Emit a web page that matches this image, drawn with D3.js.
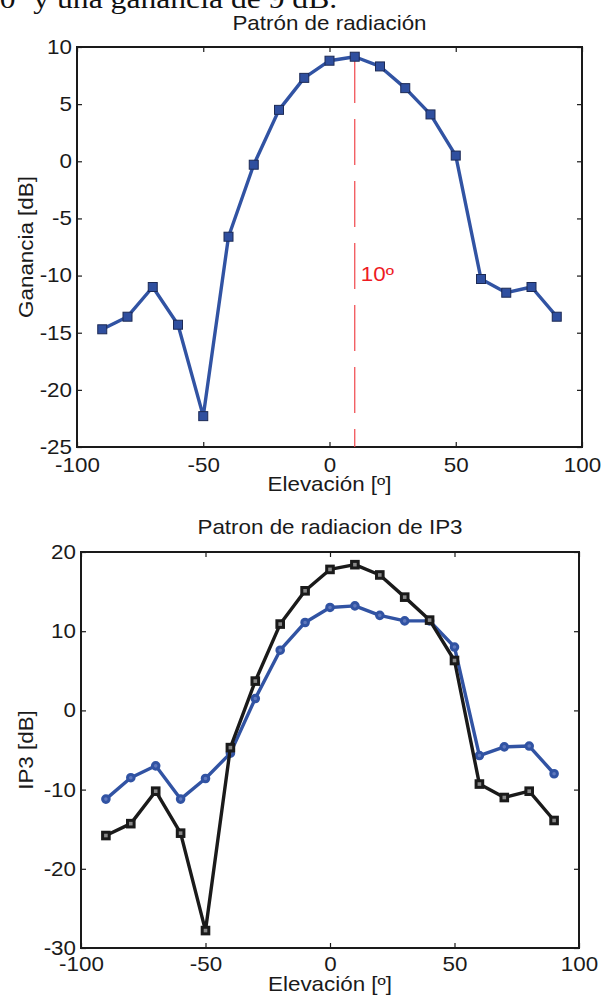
<!DOCTYPE html>
<html><head><meta charset="utf-8">
<script src="https://cdn.jsdelivr.net/npm/d3@7"></script>
<style>body{margin:0;background:#fff} svg{display:block}</style>
</head><body>
<svg id="c" width="603" height="996"></svg>
<script>
// ---- data ----
const elevacion = [-90,-80,-70,-60,-50,-40,-30,-20,-10,0,10,20,30,40,50,60,70,80,90];
const ganancia  = [-14.7,-13.6,-11.0,-14.3,-22.3,-6.6,-0.3,4.5,7.3,8.8,9.15,8.3,6.4,4.1,0.5,-10.3,-11.5,-11.0,-13.6];
const ip3Negro  = [-15.8,-14.3,-10.2,-15.5,-27.8,-4.7,3.7,10.9,15.1,17.8,18.4,17.1,14.3,11.4,6.3,-9.3,-11.0,-10.2,-13.9];
const ip3Azul   = [-11.2,-8.5,-7.0,-11.2,-8.6,-5.4,1.5,7.6,11.1,13.0,13.2,12.0,11.3,11.3,8.0,-5.7,-4.6,-4.5,-8.0];
const xTicks    = [-100,-50,0,50,100];
const yTicksTop = [-25,-20,-15,-10,-5,0,5,10];
const yTicksBot = [-30,-20,-10,0,10,20];
const picoElev  = 10;
const textoSuperior = "10º y una ganancia de 9 dB.";

// ---- style ----
const SX = 1.12;
const FONT = "'Liberation Sans', Arial, Helvetica, sans-serif";
const INK = "#1a1a1a";
const BLUE = "#3153a3";
const svg = d3.select('#c');
const fmt = d => String(d);   // ASCII hyphen minus, as in the original

function label(x, y, s, opt = {}) {
  const g = svg.append('g').attr('transform', `translate(${x},${y})` + (opt.rot ? ` rotate(${opt.rot})` : '') + ` scale(${opt.sx || SX},1)`);
  g.append('text').text(s)
    .attr('text-anchor', opt.anchor || 'middle')
    .attr('font-family', opt.family || FONT)
    .attr('font-size', opt.size || 20)
    .attr('fill', opt.fill || INK);
  return g;
}

// partial text from the page above
label(-16, 8, textoSuperior, {anchor: 'start', family: "'Liberation Serif', 'Times New Roman', serif", size: 28, sx: 1.13, fill: '#111'});

function panel(cfg) {
  const x = d3.scaleLinear().domain([-100, 100]).range([cfg.x0, cfg.x1]);
  const y = d3.scaleLinear().domain(cfg.yDom).range([cfg.y1, cfg.y0]);
  const g = svg.append('g');

  const styleAxis = (sel) => {
    sel.select('.domain').remove();
    sel.attr('font-size', 20).attr('font-family', FONT);
    sel.selectAll('.tick line').attr('stroke', INK).attr('stroke-width', 1.2);
    sel.selectAll('.tick text').attr('fill', INK);
  };

  g.append('g').attr('transform', `translate(0,${cfg.y1})`)
    .call(d3.axisBottom(x).tickValues(xTicks).tickSize(-5).tickPadding(cfg.xPad).tickFormat(fmt))
    .call(styleAxis)
    .call(s => s.selectAll('.tick text').attr('transform', `scale(${SX},1)`));
  g.append('g').attr('transform', `translate(${cfg.x0},0)`)
    .call(d3.axisLeft(y).tickValues(cfg.yTicks).tickSize(-5).tickPadding(5).tickFormat(fmt))
    .call(styleAxis)
    .call(s => s.selectAll('.tick text').attr('x', -5 / SX).attr('transform', `scale(${SX},1)`));
  g.append('g').attr('transform', `translate(0,${cfg.y0})`)
    .call(d3.axisTop(x).tickValues(xTicks).tickSize(-5).tickFormat(''))
    .call(styleAxis);
  g.append('g').attr('transform', `translate(${cfg.x1},0)`)
    .call(d3.axisRight(y).tickValues(cfg.yTicks).tickSize(-5).tickFormat(''))
    .call(styleAxis);

  g.append('rect').attr('x', cfg.x0).attr('y', cfg.y0)
    .attr('width', cfg.x1 - cfg.x0).attr('height', cfg.y1 - cfg.y0)
    .attr('fill', 'none').attr('stroke', INK).attr('stroke-width', 2);

  label((cfg.x0 + cfg.x1) / 2, cfg.titleY, cfg.title);
  label((cfg.x0 + cfg.x1) / 2, cfg.xLabY, 'Elevación [º]');
  label(33, (cfg.y0 + cfg.y1) / 2, cfg.yLab, {rot: -90});
  return {g, x, y};
}

// ---- panel 1 ----
const p1 = panel({x0: 77, x1: 582, y0: 47, y1: 447, yDom: [-25, 10], yTicks: yTicksTop,
  xPad: 11, title: 'Patrón de radiación', titleY: 30, xLabY: 491, yLab: 'Ganancia [dB]'});

p1.g.append('line')
  .attr('x1', p1.x(picoElev)).attr('x2', p1.x(picoElev))
  .attr('y1', p1.y(10)).attr('y2', p1.y(-25))
  .attr('stroke', '#f0474b').attr('stroke-width', 1.2)
  .attr('stroke-dasharray', '46,16').attr('stroke-dashoffset', 52);
label(p1.x(picoElev) + 6, 281, '10º', {anchor: 'start', fill: '#ee1c24'});

const line1 = d3.line().x((d, i) => p1.x(elevacion[i])).y(d => p1.y(d));
p1.g.append('path').datum(ganancia).attr('d', line1)
  .attr('fill', 'none').attr('stroke', BLUE).attr('stroke-width', 3.4).attr('stroke-linejoin', 'round');
p1.g.selectAll('rect.m').data(ganancia).join('rect').attr('class', 'm')
  .attr('x', (d, i) => p1.x(elevacion[i]) - 4.5).attr('y', d => p1.y(d) - 4.5)
  .attr('width', 9).attr('height', 9)
  .attr('fill', '#2f4f9f').attr('stroke', '#1c2a55').attr('stroke-width', 1);

// ---- panel 2 ----
const p2 = panel({x0: 81, x1: 579, y0: 552, y1: 948, yDom: [-30, 20], yTicks: yTicksBot,
  xPad: 9, title: 'Patron de radiacion de IP3', titleY: 534, xLabY: 991, yLab: 'IP3 [dB]'});

const line2 = d3.line().x((d, i) => p2.x(elevacion[i])).y(d => p2.y(d));
p2.g.append('path').datum(ip3Azul).attr('d', line2)
  .attr('fill', 'none').attr('stroke', BLUE).attr('stroke-width', 3.4).attr('stroke-linejoin', 'round');
p2.g.selectAll('circle.m').data(ip3Azul).join('circle').attr('class', 'm')
  .attr('cx', (d, i) => p2.x(elevacion[i])).attr('cy', d => p2.y(d)).attr('r', 3.3)
  .attr('fill', '#5f78bd').attr('stroke', BLUE).attr('stroke-width', 3);

p2.g.append('path').datum(ip3Negro).attr('d', line2)
  .attr('fill', 'none').attr('stroke', INK).attr('stroke-width', 3.4).attr('stroke-linejoin', 'round');
p2.g.selectAll('rect.m').data(ip3Negro).join('rect').attr('class', 'm')
  .attr('x', (d, i) => p2.x(elevacion[i]) - 3.3).attr('y', d => p2.y(d) - 3.3)
  .attr('width', 6.6).attr('height', 6.6)
  .attr('fill', '#888').attr('stroke', INK).attr('stroke-width', 3);
</script>
</body></html>
